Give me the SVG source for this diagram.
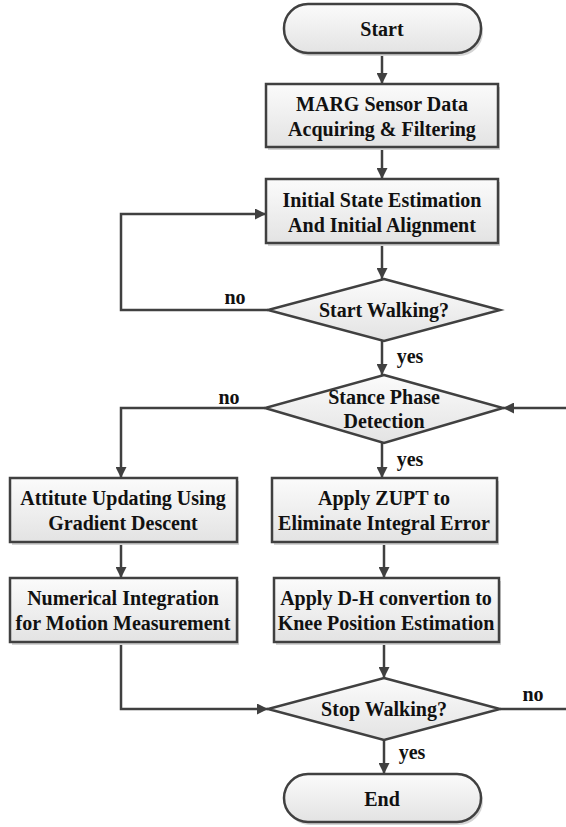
<svg xmlns="http://www.w3.org/2000/svg" width="566" height="827" viewBox="0 0 566 827">
<style>
.n{fill:url(#g);stroke:#404040;stroke-width:2.5}
.s{fill:#d4d4d4;stroke:none}
.t{font-family:"Liberation Serif","Times New Roman",serif;font-weight:bold;font-size:20px;fill:#111;text-anchor:middle;dominant-baseline:central}
.c{fill:none;stroke:#404040;stroke-width:2.5}
</style>
<defs>
<linearGradient id="g" x1="0" y1="0" x2="0" y2="1">
<stop offset="0" stop-color="#fbfbfb"/>
<stop offset="1" stop-color="#e3e3e3"/>
</linearGradient>
<marker id="a" viewBox="0 0 10 10" refX="10" refY="5" markerWidth="4.4" markerHeight="4.4" markerUnits="strokeWidth" orient="auto">
<path d="M0,0 L10,5 L0,10 Z" fill="#404040"/>
</marker>
</defs>
<g id="connectors">
<line class="c" x1="382" y1="53" x2="382" y2="84" marker-end="url(#a)"/>
<line class="c" x1="382" y1="147" x2="382" y2="179" marker-end="url(#a)"/>
<line class="c" x1="382" y1="243" x2="382" y2="279" marker-end="url(#a)"/>
<polyline class="c" points="268,310 121,310 121,214 266,214" marker-end="url(#a)"/>
<line class="c" x1="382" y1="341" x2="382" y2="375" marker-end="url(#a)"/>
<line class="c" x1="566" y1="408" x2="503" y2="408" marker-end="url(#a)"/>
<polyline class="c" points="265,408 121,408 121,478" marker-end="url(#a)"/>
<line class="c" x1="382" y1="443" x2="382" y2="478" marker-end="url(#a)"/>
<line class="c" x1="121" y1="542" x2="121" y2="578" marker-end="url(#a)"/>
<line class="c" x1="384" y1="542" x2="384" y2="578" marker-end="url(#a)"/>
<line class="c" x1="384" y1="642" x2="384" y2="678" marker-end="url(#a)"/>
<polyline class="c" points="121,642 121,709 268,709" marker-end="url(#a)"/>
<line class="c" x1="500" y1="709" x2="566" y2="709"/>
<line class="c" x1="384" y1="740" x2="384" y2="774" marker-end="url(#a)"/>
<text class="t" x="235" y="297">no</text>
<text class="t" x="410" y="356">yes</text>
<text class="t" x="229" y="397">no</text>
<text class="t" x="410" y="459">yes</text>
<text class="t" x="533" y="694">no</text>
<text class="t" x="412" y="752">yes</text>
</g>
<g id="start">
<rect class="s" x="286" y="7" width="197" height="49" rx="24"/>
<rect class="n" x="284" y="4" width="197" height="49" rx="24"/>
<text class="t" x="382" y="29">Start</text>
</g>
<g id="marg">
<rect class="s" x="268" y="87" width="232" height="63"/>
<rect class="n" x="266" y="84" width="232" height="63"/>
<text class="t" x="382" y="104">MARG Sensor Data</text>
<text class="t" x="382" y="129">Acquiring &amp; Filtering</text>
</g>
<g id="init">
<rect class="s" x="268" y="182" width="232" height="64"/>
<rect class="n" x="266" y="179" width="232" height="64"/>
<text class="t" x="382" y="200">Initial State Estimation</text>
<text class="t" x="382" y="225">And Initial Alignment</text>
</g>
<g id="startwalk">
<polygon class="n" points="384,279 500,310 384,341 268,310"/>
<text class="t" x="384" y="310">Start Walking?</text>
</g>
<g id="stance">
<polygon class="n" points="384,375 503,408 384,443 265,408"/>
<text class="t" x="384" y="397">Stance Phase</text>
<text class="t" x="384" y="421">Detection</text>
</g>
<g id="attitude">
<rect class="s" x="12" y="481" width="227" height="64"/>
<rect class="n" x="10" y="478" width="227" height="64"/>
<text class="t" x="123" y="498">Attitute Updating Using</text>
<text class="t" x="123" y="523">Gradient Descent</text>
</g>
<g id="numerical">
<rect class="s" x="12" y="581" width="227" height="64"/>
<rect class="n" x="10" y="578" width="227" height="64"/>
<text class="t" x="123" y="598">Numerical Integration</text>
<text class="t" x="123" y="623">for Motion Measurement</text>
</g>
<g id="zupt">
<rect class="s" x="274" y="481" width="225" height="64"/>
<rect class="n" x="272" y="478" width="225" height="64"/>
<text class="t" x="384" y="498">Apply ZUPT to</text>
<text class="t" x="384" y="523">Eliminate Integral Error</text>
</g>
<g id="dh">
<rect class="s" x="276" y="581" width="225" height="64"/>
<rect class="n" x="274" y="578" width="225" height="64"/>
<text class="t" x="386" y="598">Apply D-H convertion to</text>
<text class="t" x="386" y="623">Knee Position Estimation</text>
</g>
<g id="stopwalk">
<polygon class="n" points="384,678 500,709 384,740 268,709"/>
<text class="t" x="384" y="709">Stop Walking?</text>
</g>
<g id="end">
<rect class="s" x="286" y="777" width="197" height="48" rx="24"/>
<rect class="n" x="284" y="774" width="197" height="48" rx="24"/>
<text class="t" x="382" y="799">End</text>
</g>
</svg>
